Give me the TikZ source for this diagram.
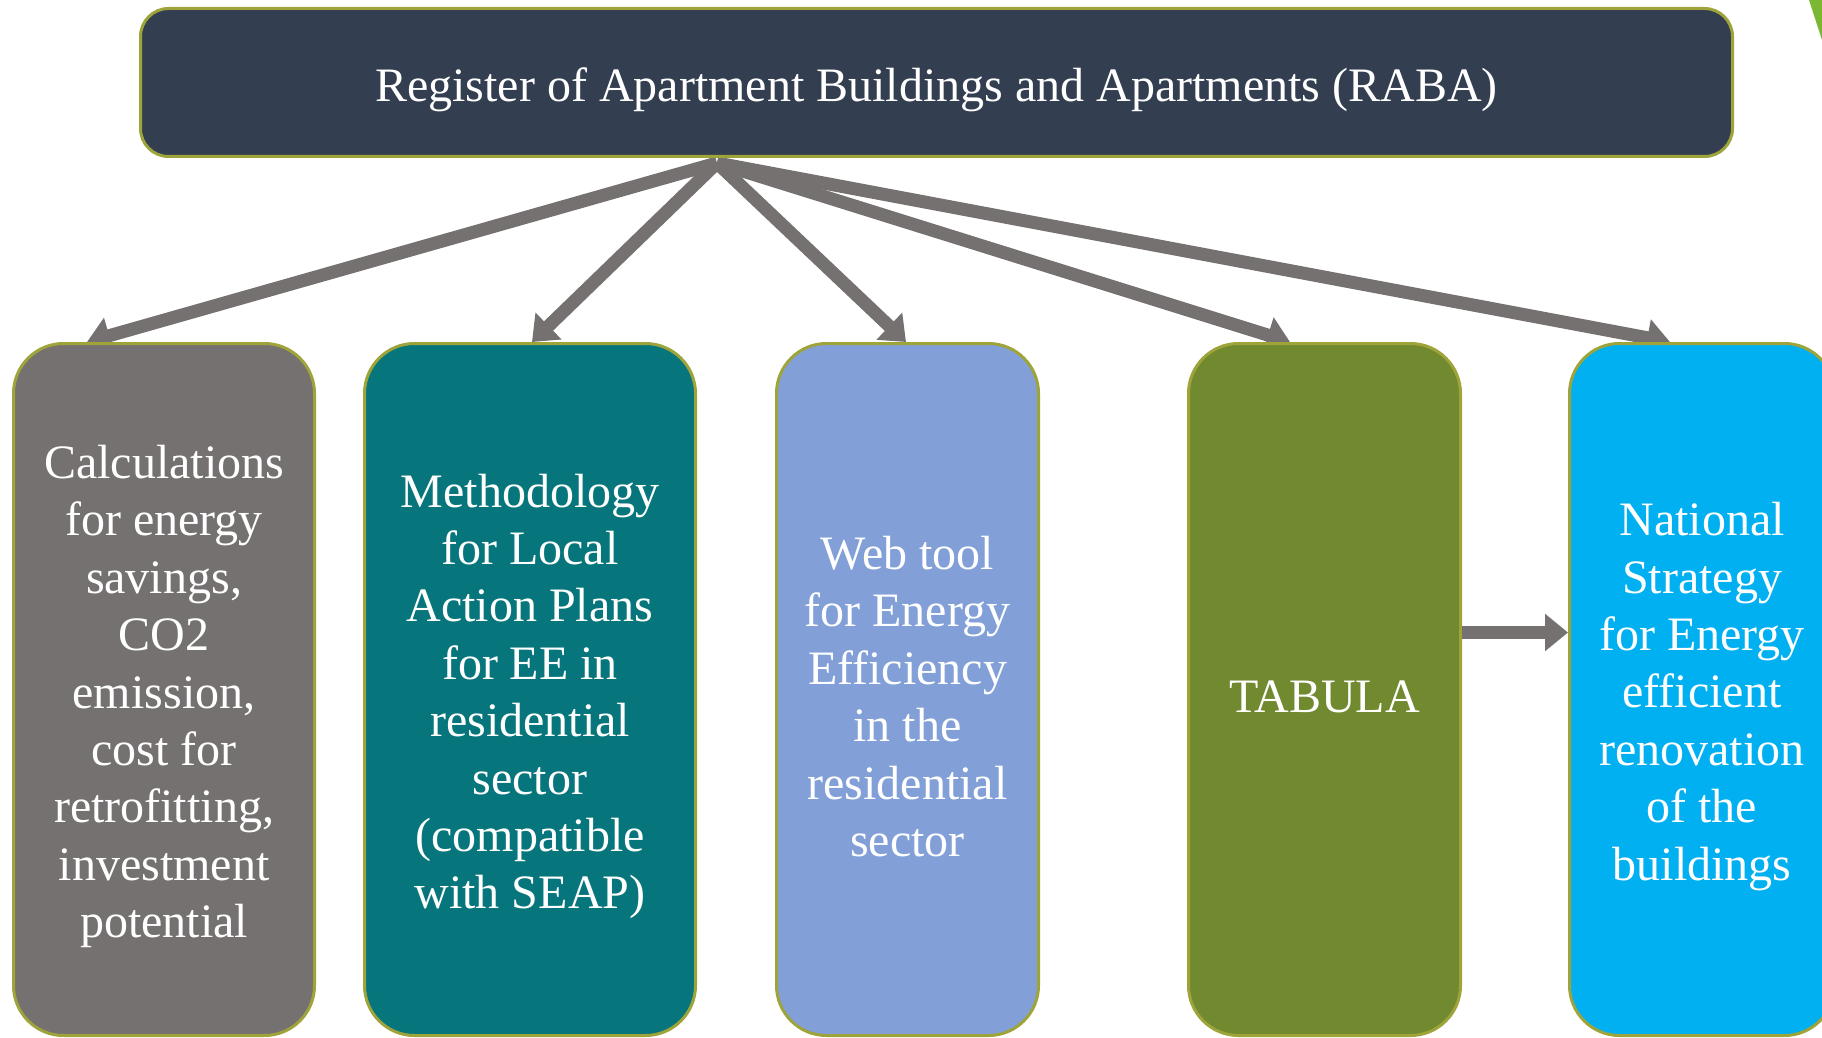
\documentclass[tikz,border=0pt]{standalone}
\usepackage{fontspec}
\setmainfont{Liberation Serif}
\usetikzlibrary{arrows.meta,calc,backgrounds}
\definecolor{headnavy}{RGB}{51,63,80}
\definecolor{rimolive}{RGB}{158,163,58}
\definecolor{linkgray}{RGB}{118,113,113}
\definecolor{calcgray}{RGB}{118,113,113}
\definecolor{methteal}{RGB}{7,118,124}
\definecolor{webblue}{RGB}{130,160,215}
\definecolor{tabgreen}{RGB}{114,138,47}
\definecolor{natcyan}{RGB}{0,176,240}
\definecolor{leafgreen}{RGB}{122,184,52}
\begin{document}
\begin{tikzpicture}[x=0.5pt,y=-0.5pt,
  txt/.style={text=white, align=center, font=\fontsize{24}{28.7}\selectfont, inner sep=0pt},
  topbox/.style={draw=rimolive, fill=headnavy, line width=1.5pt, rounded corners=14pt,
    minimum width=796pt, minimum height=74pt},
  stepbox/.style={draw=rimolive, line width=1.5pt, rounded corners=25pt, minimum height=346pt},
  link/.style={draw=linkgray, line width=6.5pt, -{Triangle[length=11.5pt,width=18pt]}}]
\useasboundingbox (0,0) rectangle (1822,1038);
\clip (0,0) rectangle (1822,1038);

% corner leaf
\fill[leafgreen] (1809,0) -- (1822,0) -- (1822,40) -- cycle;

% register box
\node[topbox] (raba) at (936.5,82.5) {};
\node[txt] (rabat) at ([yshift=-3.5pt]raba.center) {Register of Apartment Buildings and Apartments (RABA)};

% tool boxes
\node[stepbox, fill=calcgray, minimum width=150.5pt] (b1) at (164,689.5) {};
\node[stepbox, fill=methteal, minimum width=165.5pt] (b2) at (530,689.5) {};
\node[stepbox, fill=webblue, minimum width=131pt] (b3) at (907.5,689.5) {};
\node[stepbox, fill=tabgreen, minimum width=136pt] (b4) at (1324.5,689.5) {};
\node[stepbox, fill=natcyan, minimum width=132.5pt] (b5) at (1702,689.5) {};

% box texts
\node[txt] (b1t) at ([yshift=-3.5pt]b1.center)
  {Calculations\\for energy\\savings,\\CO2\\emission,\\cost for\\retrofitting,\\investment\\potential};
\node[txt] (b2t) at ([yshift=-3.5pt]b2.center)
  {Methodology\\for Local\\Action Plans\\for EE in\\residential\\sector\\(compatible\\with SEAP)};
\node[txt] (b3t) at ([yshift=-3.5pt]b3.center)
  {Web tool\\for Energy\\Efficiency\\in the\\residential\\sector};
\node[txt] (b4t) at ([yshift=-3.5pt]b4.center) {TABULA};
\node[txt] (b5t) at ([yshift=-3.5pt]b5.center)
  {National\\Strategy\\for Energy\\efficient\\renovation\\of the\\buildings};

% connectors
\coordinate (hub) at (717,163);
\begin{scope}[on background layer]
  \draw[link] (hub) -- ($(b1.north)+(-77,0)$);
  \draw[link] (hub) -- ($(b2.north)+(2,0)$);
  \draw[link] (hub) -- ($(b3.north)+(-1.5,0)$);
  \draw[link] (hub) -- ($(b4.north)+(-34.5,0)$);
  \draw[link] (hub) -- ($(b5.north)+(-32,0)$);
\end{scope}
\draw[link] ([yshift=28.5pt]b4.east) -- ([yshift=28.5pt]b5.west);
\end{tikzpicture}
\end{document}
